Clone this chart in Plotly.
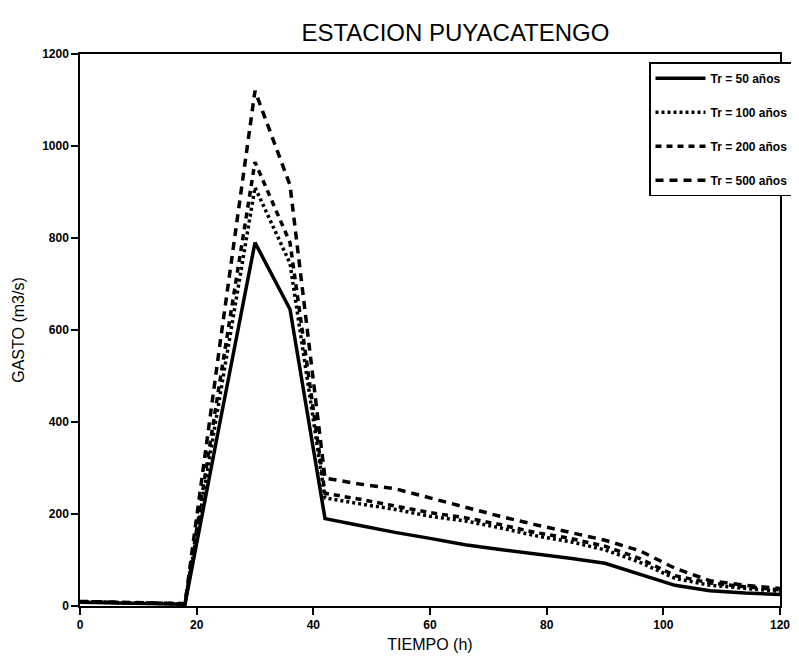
import plotly.graph_objects as go

# Time (h)
tiempo = [0, 6, 12, 18, 24, 30, 36, 42, 48, 54, 60, 66, 72, 78, 84, 90, 96, 102, 108, 114, 120]

# Discharge (m3/s) for each return period
tr50 = [8, 7, 6, 4, 400, 790, 645, 190, 175, 160, 147, 133, 123, 114, 104, 93, 68, 45, 33, 28, 25]
tr100 = [9, 8, 6, 4, 460, 910, 745, 235, 222, 210, 195, 185, 170, 153, 140, 122, 95, 60, 45, 38, 32]
tr200 = [9, 8, 7, 5, 490, 965, 790, 245, 232, 218, 203, 192, 177, 160, 147, 130, 103, 66, 50, 42, 35]
tr500 = [10, 9, 7, 5, 570, 1120, 915, 278, 265, 255, 235, 215, 195, 177, 160, 143, 120, 82, 55, 45, 38]

nombres = ["Tr = 50 años", "Tr = 100 años", "Tr = 200 años", "Tr = 500 años"]
series = [tr50, tr100, tr200, tr500]
estilos = ["solid", "3px,3px", "6px,5px", "8px,6px"]

x_ticks = [0, 20, 40, 60, 80, 100, 120]
y_ticks = [0, 200, 400, 600, 800, 1000, 1200]

fig = go.Figure()
for i, (nm, ys, ds) in enumerate(zip(nombres, series, estilos)):
    fig.add_trace(go.Scatter(
        x=tiempo, y=ys, mode="lines", name="<b>" + nm + "</b>", legendgroup=str(i),
        line=dict(color="black", width=3.5, dash=ds),
    ))

fnt = "Liberation Sans, Arial, sans-serif"
fig.update_layout(
    width=799, height=666,
    margin=dict(l=72, r=27, t=46, b=68, autoexpand=False),
    paper_bgcolor="white", plot_bgcolor="white",
    title=dict(text="ESTACION PUYACATENGO", x=0.56, xanchor="center", y=0.975, yanchor="top",
               font=dict(family=fnt, size=24, color="black")),
    font=dict(family=fnt, color="black"),
    showlegend=True,
    legend=dict(x=1.02, xanchor="right", y=0.985, yanchor="top",
                bordercolor="black", borderwidth=1.5, bgcolor="white",
                font=dict(family=fnt, size=12, color="black"),
                tracegroupgap=15, itemwidth=50),
    xaxis=dict(range=[0, 120], tickvals=x_ticks, ticktext=["<b>%d</b>" % v for v in x_ticks],
               showgrid=False, zeroline=False, showline=True, linecolor="black", linewidth=1.5,
               mirror=True, ticks="outside", ticklen=7, tickwidth=1.5, tickcolor="black",
               tickfont=dict(family=fnt, size=12, color="black"),
               title=dict(text="TIEMPO (h)", font=dict(family=fnt, size=16, color="black"), standoff=8)),
    yaxis=dict(range=[0, 1200], tickvals=y_ticks, ticktext=["<b>%d</b>" % v for v in y_ticks],
               showgrid=False, zeroline=False, showline=True, linecolor="black", linewidth=1.5,
               mirror=True, ticks="outside", ticklen=7, tickwidth=1.5, tickcolor="black",
               tickfont=dict(family=fnt, size=12, color="black"),
               title=dict(text="GASTO (m3/s)", font=dict(family=fnt, size=16, color="black"), standoff=14)),
)

fig.write_html("out.html")
